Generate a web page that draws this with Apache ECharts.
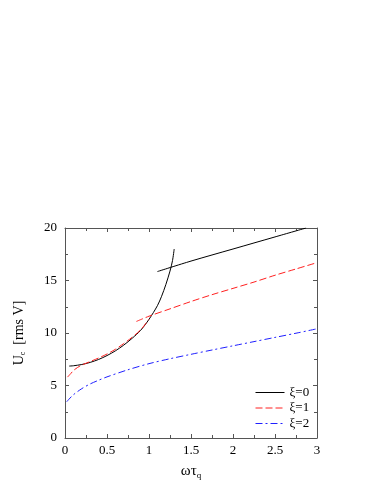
<!DOCTYPE html>
<html>
<head>
<meta charset="utf-8">
<script src="https://cdn.jsdelivr.net/npm/echarts@6/dist/echarts.min.js"></script>
<style>
html,body{margin:0;padding:0;background:#fff;}
#c{width:382px;height:494px;}
</style>
</head>
<body>
<div id="c"></div>
<script>
// ξ=0 (two branches)
var xi0LowX = [0.05,0.1,0.2,0.3,0.4,0.5,0.6,0.7,0.8,0.9,1.0,1.1,1.15,1.2,1.25,1.28,1.3];
var xi0LowY = [6.85,6.88,7.0,7.2,7.48,7.85,8.3,8.85,9.5,10.25,11.3,12.6,13.5,14.6,15.9,16.9,18.0];
var xi0HighX = [1.1,1.5,2.0,2.5,2.87];
var xi0HighY = [15.85,16.85,18.0,19.15,20.0];
// ξ=1 (two branches)
var xi1LowX = [0.03,0.07,0.1,0.15,0.2,0.3,0.4,0.5,0.6,0.7,0.8,0.9,1.0];
var xi1LowY = [5.8,6.15,6.42,6.72,6.95,7.28,7.62,8.0,8.45,9.0,9.6,10.3,11.3];
var xi1HighX = [0.85,1.0,1.25,1.5,1.75,2.0,2.25,2.5,2.75,3.0];
var xi1HighY = [11.1,11.6,12.3,13.0,13.65,14.25,14.85,15.5,16.1,16.7];
// ξ=2
var xi2X = [0.02,0.05,0.1,0.2,0.3,0.4,0.5,0.75,1.0,1.25,1.5,1.75,2.0,2.25,2.5,2.75,3.0];
var xi2Y = [3.45,3.72,4.12,4.7,5.15,5.5,5.82,6.5,7.08,7.55,7.97,8.38,8.78,9.18,9.58,9.98,10.4];

var legendNames = ['ξ=0','ξ=1','ξ=2'];

function pairs(xs, ys){ return xs.map(function(x,i){return [x, ys[i]];}); }

var FONT = 'Liberation Serif';
var axisCol = '#555';

function xAx(pos, labels){
  return {
    type:'value', position:pos, min:0, max:3, interval:0.5,
    axisLine:{show:true, onZero:false, lineStyle:{color:axisCol, width:1}},
    axisTick:{show:true, inside:true, length:4, lineStyle:{color:axisCol}},
    minorTick:{show:true, splitNumber:2, length:3, lineStyle:{color:axisCol}},
    splitLine:{show:false},
    axisLabel:{show:labels, color:'#000', fontFamily:FONT, fontSize:13, margin:6,
      formatter:function(v){return String(v);}}
  };
}
function yAx(pos, labels){
  return {
    type:'value', position:pos, min:0, max:20, interval:5,
    axisLine:{show:true, onZero:false, lineStyle:{color:axisCol, width:1}},
    axisTick:{show:true, inside:true, length:4, lineStyle:{color:axisCol}},
    minorTick:{show:true, splitNumber:2, length:3, lineStyle:{color:axisCol}},
    splitLine:{show:false},
    axisLabel:{show:labels, color:'#000', fontFamily:FONT, fontSize:13, margin:8}
  };
}

var xa0 = xAx('bottom', true);
xa0.name = '{a|ωτ}{s|q}';
xa0.nameLocation = 'middle';
xa0.nameGap = 24;
xa0.nameTextStyle = {rich:{
  a:{fontFamily:FONT, fontSize:15, color:'#000'},
  s:{fontFamily:FONT, fontSize:9, color:'#000', padding:[9,0,0,0]}
}};
var ya0 = yAx('left', true);
ya0.name = '{a|U}{s|c}{a|  [rms V]}';
ya0.nameLocation = 'middle';
ya0.nameGap = 38;
ya0.nameTextStyle = {rich:{
  a:{fontFamily:FONT, fontSize:14, color:'#000'},
  s:{fontFamily:FONT, fontSize:8, color:'#000', padding:[8,0,0,0]}
}};

var common = {type:'line', showSymbol:false, symbol:'none', smooth:0.3, xAxisIndex:0, yAxisIndex:0};

var option = {
  backgroundColor:'#fff',
  animation:false,
  grid:{left:65, right:65, top:228, bottom:56},
  legend:{
    data:legendNames, orient:'vertical', left:250, top:381,
    itemWidth:29, itemHeight:14, itemGap:2.5,
    itemStyle:{opacity:0},
    lineStyle:{width:1},
    textStyle:{fontFamily:FONT, fontSize:13, color:'#000'}
  },
  xAxis:[xa0, xAx('top', false)],
  yAxis:[ya0, yAx('right', false)],
  series:[
    Object.assign({}, common, {name:legendNames[0], data:pairs(xi0LowX, xi0LowY),
      lineStyle:{color:'#000', width:1}, itemStyle:{color:'#000'}}),
    Object.assign({}, common, {name:legendNames[0], data:pairs(xi0HighX, xi0HighY),
      lineStyle:{color:'#000', width:1}, itemStyle:{color:'#000'}}),
    Object.assign({}, common, {name:legendNames[1], data:pairs(xi1LowX, xi1LowY),
      lineStyle:{color:'#ff2020', width:1, type:[7,3]}, itemStyle:{color:'#ff2020'}}),
    Object.assign({}, common, {name:legendNames[1], data:pairs(xi1HighX, xi1HighY),
      lineStyle:{color:'#ff2020', width:1, type:[7,3]}, itemStyle:{color:'#ff2020'}}),
    Object.assign({}, common, {name:legendNames[2], data:pairs(xi2X, xi2Y),
      lineStyle:{color:'#2020ff', width:1, type:[7,3,2,3]}, itemStyle:{color:'#2020ff'}})
  ]
};
var chart = echarts.init(document.getElementById('c'), null, {renderer:'canvas'});
chart.setOption(option);
</script>
</body>
</html>
